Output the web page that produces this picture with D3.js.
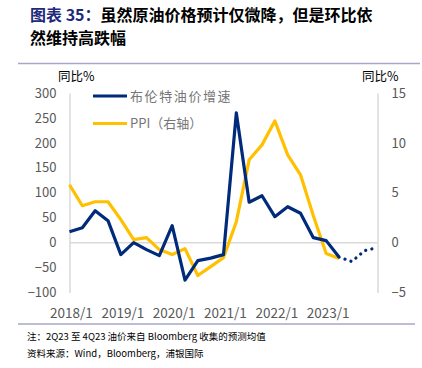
<!DOCTYPE html>
<html>
<head>
<meta charset="utf-8">
<script src="https://cdn.jsdelivr.net/npm/d3@7"></script>
<style>
  body { margin: 0; background: #fff; }
  svg { display: block; }
  text { font-family: "Noto Sans CJK SC", "Noto Sans", sans-serif; }
</style>
</head>
<body>
<div id="chart"></div>
<script>
// Quarters 2018Q1 .. 2024Q1
const quarters = ['2018Q1','2018Q2','2018Q3','2018Q4','2019Q1','2019Q2','2019Q3','2019Q4',
  '2020Q1','2020Q2','2020Q3','2020Q4','2021Q1','2021Q2','2021Q3','2021Q4',
  '2022Q1','2022Q2','2022Q3','2022Q4','2023Q1','2023Q2','2023Q3','2023Q4','2024Q1'];
const xLabels = ['2018/1','2019/1','2020/1','2021/1','2022/1','2023/1'];

// Brent yoy (%), left axis
const brent = [22, 30, 64, 44, -24, 0, -14, -26, 34, -75, -36, -31, -24, 260, 81, 94,
  52, 72, 59, 10, 4, -29];
// Brent forecast (dotted), starts at the last actual point
const brentFcst = [-29, -38, -16, -10];
// PPI yoy (%), right axis
const ppi = [5.8, 3.7, 4.1, 4.1, 2.3, 0.3, 0.5, -0.7, -1.2, -0.6, -3.3, -2.4, -1.5, 2.1, 8.3, 9.8,
  12.2, 8.8, 6.8, 2.7, -1.1, -1.6];

const leftTicks = [300, 250, 200, 150, 100, 50, 0, -50, -100];
const rightTicks = [15, 10, 5, 0, -5];

const W = 422, H = 368;
const svg = d3.select('#chart').append('svg').attr('width', W).attr('height', H);

// Title
const title = svg.append('text').attr('x', 30).attr('y', 21)
  .attr('font-size', 16).attr('font-weight', 'bold').attr('fill', '#000');
title.append('tspan').attr('fill', '#1f2a7c').text('图表 35：');
title.append('tspan').text('虽然原油价格预计仅微降，但是环比依');
svg.append('text').attr('x', 30).attr('y', 44)
  .attr('font-size', 16).attr('font-weight', 'bold').text('然维持高跌幅');

// Frame lines
svg.append('line').attr('x1', 18).attr('x2', 420).attr('y1', 63.5).attr('y2', 63.5)
  .attr('stroke', '#a7a7c7').attr('stroke-width', 1.5);
svg.append('line').attr('x1', 18).attr('x2', 415).attr('y1', 324).attr('y2', 324)
  .attr('stroke', '#a7a7c7').attr('stroke-width', 1.5);

// Scales
const x = d3.scalePoint().domain(quarters).range([69.5, 377.5]);
const yL = d3.scaleLinear().domain([-100, 300]).range([292.5, 93]);
const yR = d3.scaleLinear().domain([-5, 15]).range([292.5, 93]);

// Axes
const leftAxis = svg.append('g').attr('transform', 'translate(69.5,0)')
  .call(d3.axisLeft(yL).tickValues(leftTicks).tickSize(0).tickPadding(13));
const rightAxis = svg.append('g').attr('transform', 'translate(377.5,0)')
  .call(d3.axisRight(yR).tickValues(rightTicks).tickSize(0).tickPadding(14));
[leftAxis, rightAxis].forEach((g) => {
  g.select('.domain').attr('stroke', '#d9d9d9').attr('stroke-width', 1.5);
  g.selectAll('text').attr('font-size', 13).attr('fill', '#595959')
    .attr('font-family', '"Open Sans", "Noto Sans", sans-serif');
});

// Zero line
svg.append('line').attr('x1', 69.5).attr('x2', 377.5)
  .attr('y1', yL(0)).attr('y2', yL(0)).attr('stroke', '#d9d9d9').attr('stroke-width', 1.5);

// X labels
const tickQ = quarters.filter((q) => q.endsWith('Q1') && q < '2024');
svg.append('g').attr('transform', 'translate(0,313)')
  .selectAll('text').data(tickQ).enter().append('text')
  .attr('x', (d) => x(d) + 2)
  .attr('dy', '0.35em')
  .attr('text-anchor', 'middle')
  .attr('font-size', 13.5).attr('fill', '#595959')
  .attr('font-family', '"Open Sans", "Noto Sans", sans-serif')
  .text((d, i) => xLabels[i]);

// Axis titles
svg.append('text').attr('x', 58).attr('y', 81).attr('font-size', 12.5).attr('fill', '#000').text('同比%');
svg.append('text').attr('x', 362).attr('y', 81).attr('font-size', 12.5).attr('fill', '#000').text('同比%');

// Lines
const lineL = d3.line().x((d, i) => x(quarters[i])).y((d) => yL(d));
const lineR = d3.line().x((d, i) => x(quarters[i])).y((d) => yR(d));
const fcstStart = brent.length - 1;
const lineF = d3.line().x((d, i) => x(quarters[fcstStart + i])).y((d) => yL(d));

svg.append('path').datum(ppi).attr('d', lineR)
  .attr('fill', 'none').attr('stroke', '#ffc000').attr('stroke-width', 3.2)
  .attr('stroke-linejoin', 'round');
svg.append('path').datum(brent).attr('d', lineL)
  .attr('fill', 'none').attr('stroke', '#002b7a').attr('stroke-width', 3.2)
  .attr('stroke-linejoin', 'round');
svg.append('path').datum(brentFcst).attr('d', lineF)
  .attr('fill', 'none').attr('stroke', '#002b7a').attr('stroke-width', 3.2)
  .attr('stroke-dasharray', '0.1 6.2').attr('stroke-linecap', 'round');

// Legend
const legend = [
  { name: '布伦特油价增速', color: '#002b7a', y: 96, ls: 1.6 },
  { name: 'PPI（右轴）', color: '#ffc000', y: 123.5, ls: 0 },
];
const lg = svg.append('g').selectAll('g').data(legend).enter().append('g');
lg.append('line').attr('x1', 93).attr('x2', 127).attr('y1', (d) => d.y).attr('y2', (d) => d.y)
  .attr('stroke', (d) => d.color).attr('stroke-width', 3.2);
lg.append('text').attr('x', 130).attr('y', (d) => d.y).attr('dy', '0.36em')
  .attr('font-size', 13).attr('letter-spacing', (d) => d.ls)
  .attr('fill', '#767676').text((d) => d.name);

// Footnotes
svg.append('text').attr('x', 27).attr('y', 340).attr('font-size', 9.5).attr('fill', '#000')
  .text('注：2Q23 至 4Q23 油价来自 Bloomberg 收集的预测均值');
svg.append('text').attr('x', 27).attr('y', 356.5).attr('font-size', 9.5).attr('fill', '#000')
  .text('资料来源：Wind，Bloomberg，浦银国际');
</script>
</body>
</html>
